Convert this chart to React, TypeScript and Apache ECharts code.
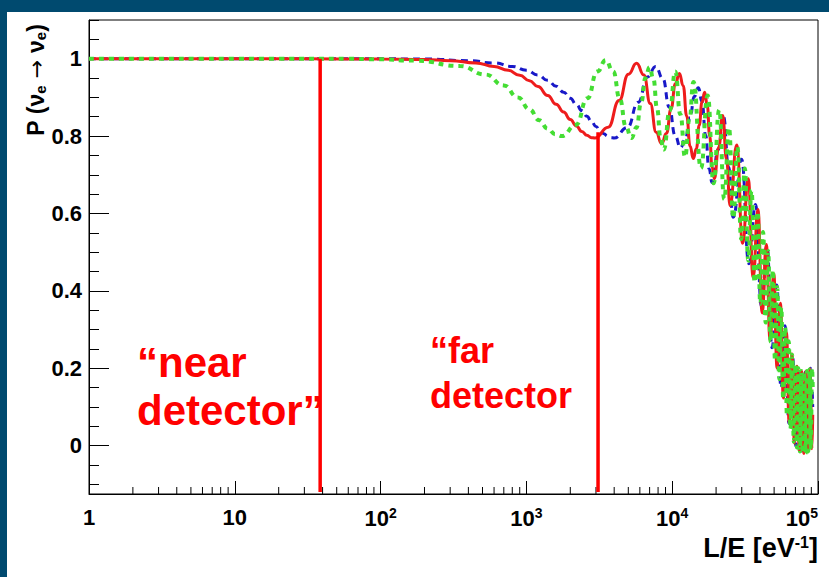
import React, { useEffect, useRef } from 'react';
import * as echarts from 'echarts';

const xRange = [1, 100000];
const yRange = [-0.125, 1.1];
const yMajorTicks = [0, 0.2, 0.4, 0.6, 0.8, 1];
const yMinorTicks = [-0.1, -0.05, 0.05, 0.1, 0.15, 0.25, 0.3, 0.35, 0.45, 0.5, 0.55, 0.65, 0.7, 0.75, 0.85, 0.9, 0.95, 1.05, 1.1];
const xMinorTicks = [2, 3, 4, 5, 6, 7, 8, 9, 20, 30, 40, 50, 60, 70, 80, 90, 200, 300, 400, 500, 600, 700, 800, 900,
  2000, 3000, 4000, 5000, 6000, 7000, 8000, 9000, 20000, 30000, 40000, 50000, 60000, 70000, 80000, 90000];

const redCurve = [
  [1, 1], [30, 1], [100, 0.999], [200, 0.998], [300, 0.995], [450, 0.989], [600, 0.98], [750, 0.97], [900, 0.957],
  [1050, 0.943], [1200, 0.928], [1400, 0.905], [1600, 0.882], [1800, 0.862], [2000, 0.843], [2200, 0.826],
  [2400, 0.812], [2600, 0.802], [2800, 0.796], [2950, 0.795],
  [3640, 0.823], [4325, 0.892], [5010, 0.96], [5700, 0.988],
  [6390, 0.958], [7075, 0.884], [7760, 0.81], [8450, 0.78],
  [9140, 0.807], [9825, 0.871], [10510, 0.935], [11200, 0.962],
  [11890, 0.93], [12575, 0.852], [13260, 0.774], [13950, 0.742],
  [14640, 0.767], [15325, 0.828], [16010, 0.888], [16700, 0.913],
  [17390, 0.88], [18075, 0.8], [18760, 0.72], [19450, 0.69],
  [20825, 0.77], [22200, 0.853], [23575, 0.74], [24950, 0.62],
  [27700, 0.777], [30450, 0.523], [33200, 0.69], [35950, 0.435], [38700, 0.61], [41450, 0.343], [44200, 0.52],
  [46950, 0.273], [49700, 0.444], [52450, 0.2], [55200, 0.368], [57950, 0.123], [60700, 0.293], [63450, 0.06],
  [66200, 0.237], [68950, 0.007], [71700, 0.205], [74450, -0.014], [77200, 0.192], [79950, -0.02], [82700, 0.192],
  [85450, -0.015], [88200, 0.198], [90950, -0.008], [92000, 0.08],
];

const blueCurve = [
  [1, 1], [30, 1], [200, 0.9995], [400, 0.995], [600, 0.989], [800, 0.98], [1000, 0.97], [1200, 0.958], [1400, 0.944],
  [1600, 0.929], [1800, 0.9135], [2000, 0.8975], [2200, 0.8815], [2400, 0.866], [2600, 0.851], [2800, 0.837],
  [3000, 0.825], [3200, 0.8145], [3400, 0.806], [3600, 0.8], [3800, 0.796], [4000, 0.795],
  [4925, 0.822], [5850, 0.8875], [6775, 0.953], [7700, 0.98],
  [8625, 0.949], [9550, 0.875], [10475, 0.801], [11400, 0.77],
  [12325, 0.793], [13250, 0.8475], [14175, 0.902], [15100, 0.925],
  [16025, 0.889], [16950, 0.8025], [17875, 0.716], [18800, 0.68],
  [20650, 0.765], [22500, 0.85], [24350, 0.72], [26200, 0.59],
  [29900, 0.74], [33600, 0.47], [37300, 0.623], [41000, 0.36], [44700, 0.515], [48400, 0.253], [52100, 0.415],
  [55800, 0.15], [59500, 0.31], [63200, 0.058], [66900, 0.23], [70600, -0.002], [74300, 0.196], [78000, -0.02],
  [81700, 0.19], [85400, -0.015], [89100, 0.2], [92000, 0.1],
];

const greenCurve = [
  [1, 1], [20, 1], [60, 0.9997], [90, 0.9988], [175, 0.995], [350, 0.981], [525, 0.959], [700, 0.931], [875, 0.9],
  [1050, 0.869], [1225, 0.841], [1400, 0.819], [1575, 0.805], [1750, 0.8],
  [2188, 0.829], [2625, 0.898], [3062, 0.967], [3500, 0.996],
  [3937, 0.967], [4375, 0.8955], [4812, 0.824], [5250, 0.795],
  [5687, 0.822], [6125, 0.8865], [6562, 0.951], [7000, 0.978],
  [7437, 0.947], [7875, 0.8715], [8312, 0.796], [8750, 0.765],
  [9625, 0.866], [10500, 0.967], [11375, 0.8565], [12250, 0.746], [13125, 0.843], [14000, 0.94],
  [15750, 0.717], [17500, 0.905], [19250, 0.678], [21000, 0.868], [22750, 0.637], [24500, 0.822], [26250, 0.588],
  [28000, 0.772], [29750, 0.534], [31500, 0.716], [33250, 0.478], [35000, 0.66], [36750, 0.422], [38500, 0.604],
  [40250, 0.366], [42000, 0.552], [43750, 0.318], [45500, 0.503], [47250, 0.269], [49000, 0.454], [50750, 0.22],
  [52500, 0.41], [54250, 0.172], [56000, 0.358], [57750, 0.12], [59500, 0.306], [61250, 0.078], [63000, 0.27],
  [64750, 0.043], [66500, 0.235], [68250, 0.01], [70000, 0.21], [71750, -0.005], [73500, 0.2], [75250, -0.015],
  [77000, 0.193], [78750, -0.02], [80500, 0.19], [82250, -0.02], [84000, 0.193], [85750, -0.015], [87500, 0.197],
  [89250, -0.01], [91000, 0.2], [92000, 0.15],
];

const nearDetectorLine = [[38.5, 1.0], [38.5, -0.12]];
const farDetectorLine = [[3100, 0.81], [3100, -0.12]];

const FONT = 'Liberation Sans';

export default function App() {
  const ref = useRef<HTMLDivElement>(null);
  useEffect(() => {
    const chart = echarts.init(ref.current as HTMLDivElement, null, { renderer: 'svg' });
    const labelBase = { color: '#000', fontFamily: FONT, fontWeight: 'bold', fontSize: 22 };
    const option: any = {
      animation: false,
      backgroundColor: 'transparent',
      grid: {
        left: 89, right: 11, top: 20, bottom: 83, show: true, borderColor: '#000', borderWidth: 1,
        backgroundColor: 'transparent', outerBoundsMode: 'none', containLabel: false,
      },
      xAxis: {
        type: 'log', logBase: 10, min: xRange[0], max: xRange[1],
        axisLine: { show: true, onZero: false, lineStyle: { color: '#000', width: 1 } },
        axisTick: { show: true, inside: true, length: 13, lineStyle: { color: '#000', width: 1 } },
        axisLabel: {
          ...labelBase, margin: 12, alignMaxLabel: 'right',
          formatter: (v: number) => {
            const p = Math.round(Math.log10(v));
            if (p === 0) return '1';
            if (p === 1) return '10';
            return '10{s|' + p + '}';
          },
          rich: { s: { fontSize: 14, fontWeight: 'bold', fontFamily: FONT, color: '#000', verticalAlign: 'top', padding: [0, 0, 10, 0] } },
        },
        splitLine: { show: false },
      },
      yAxis: [
        {
          type: 'value', min: yRange[0], max: yRange[1], position: 'left',
          axisLine: { show: true, onZero: false, lineStyle: { color: '#000', width: 1 } },
          axisTick: { show: true, inside: true, length: 20, customValues: yMajorTicks, lineStyle: { color: '#000', width: 1 } },
          axisLabel: { ...labelBase, margin: 7, customValues: yMajorTicks, formatter: (v: number) => String(Math.round(v * 10) / 10) },
          splitLine: { show: false },
        },
        {
          type: 'value', min: yRange[0], max: yRange[1], position: 'left', offset: 0,
          axisLine: { show: false, onZero: false },
          axisTick: { show: true, inside: true, length: 10, customValues: yMinorTicks, lineStyle: { color: '#000', width: 1 } },
          axisLabel: { show: false },
          splitLine: { show: false },
        },
      ],
      series: [
        {
          type: 'custom', silent: true, clip: false, z: 1,
          data: xMinorTicks.map((v) => [v, yRange[0]]),
          renderItem: (params: any, api: any) => {
            const p = api.coord([api.value(0), api.value(1)]);
            return { type: 'line', shape: { x1: p[0], y1: p[1], x2: p[0], y2: p[1] - 7 }, style: { stroke: '#000', lineWidth: 1 } };
          },
        },
        {
          name: 'blue', type: 'line', data: blueCurve, smooth: 0.5, smoothMonotone: 'x', symbol: 'none', z: 2,
          lineStyle: { color: '#1818c8', width: 3, type: [7, 5] },
        },
        {
          name: 'red', type: 'line', data: redCurve, smooth: 0.5, smoothMonotone: 'x', symbol: 'none', z: 3,
          lineStyle: { color: '#ee1c1c', width: 3 },
        },
        {
          name: 'green', type: 'line', data: greenCurve, smooth: 0.5, smoothMonotone: 'x', symbol: 'none', z: 4,
          lineStyle: { color: '#44dd33', width: 4, type: [5, 5] },
        },
        {
          name: 'near', type: 'line', data: nearDetectorLine, symbol: 'none', z: 5,
          lineStyle: { color: '#ff0000', width: 3.5 },
        },
        {
          name: 'far', type: 'line', data: farDetectorLine, symbol: 'none', z: 5,
          lineStyle: { color: '#ff0000', width: 3.5 },
        },
      ],
      graphic: [
        {
          type: 'text', x: 36, y: 80, rotation: Math.PI / 2,
          style: {
            text: '{b|P }{b|(}{n|ν}{s|e}{a| → }{n|ν}{s|e}{b|)}',
            align: 'center', verticalAlign: 'middle', fill: '#000',
            rich: {
              b: { fontSize: 23, fontWeight: 'bold', fontFamily: FONT, fill: '#000' },
              a: { fontSize: 22, fontWeight: 'normal', fontFamily: 'DejaVu Sans', fill: '#000' },
              n: { fontSize: 23, fontWeight: 'bold', fontFamily: FONT, fill: '#000' },
              s: { fontSize: 15, fontWeight: 'bold', fontFamily: FONT, fill: '#000', verticalAlign: 'bottom', padding: [9, 0, 0, 0] },
            },
          },
        },
        {
          type: 'text', x: 818, y: 548,
          style: {
            text: '{b|L/E [eV}{s|-1}{b|]}',
            align: 'right', verticalAlign: 'middle', fill: '#000',
            rich: {
              b: { fontSize: 27, fontWeight: 'bold', fontFamily: FONT, fill: '#000' },
              s: { fontSize: 16, fontWeight: 'bold', fontFamily: FONT, fill: '#000', verticalAlign: 'top', padding: [0, 0, 12, 0] },
            },
          },
        },
        { type: 'text', x: 137, y: 362, style: { text: '\u201cnear', font: `bold 42px "${FONT}"`, fill: '#ff0000', align: 'left', verticalAlign: 'middle' } },
        { type: 'text', x: 137, y: 410, style: { text: 'detector\u201d', font: `bold 42px "${FONT}"`, fill: '#ff0000', align: 'left', verticalAlign: 'middle' } },
        { type: 'text', x: 430, y: 350, style: { text: '\u201cfar', font: `bold 36px "${FONT}"`, fill: '#ff0000', align: 'left', verticalAlign: 'middle' } },
        { type: 'text', x: 430, y: 395, style: { text: 'detector', font: `bold 36px "${FONT}"`, fill: '#ff0000', align: 'left', verticalAlign: 'middle' } },
      ],
    };
    chart.setOption(option);
    return () => chart.dispose();
  }, []);

  return (
    <div style={{ position: 'fixed', left: 0, top: 0, width: 829, height: 577, background: '#004a6f' }}>
      <div style={{ position: 'absolute', left: 7, top: 12, right: 0, bottom: 0, background: '#ffffff' }} />
      <div ref={ref} style={{ position: 'absolute', left: 0, top: 0, width: 829, height: 577 }} />
    </div>
  );
}
